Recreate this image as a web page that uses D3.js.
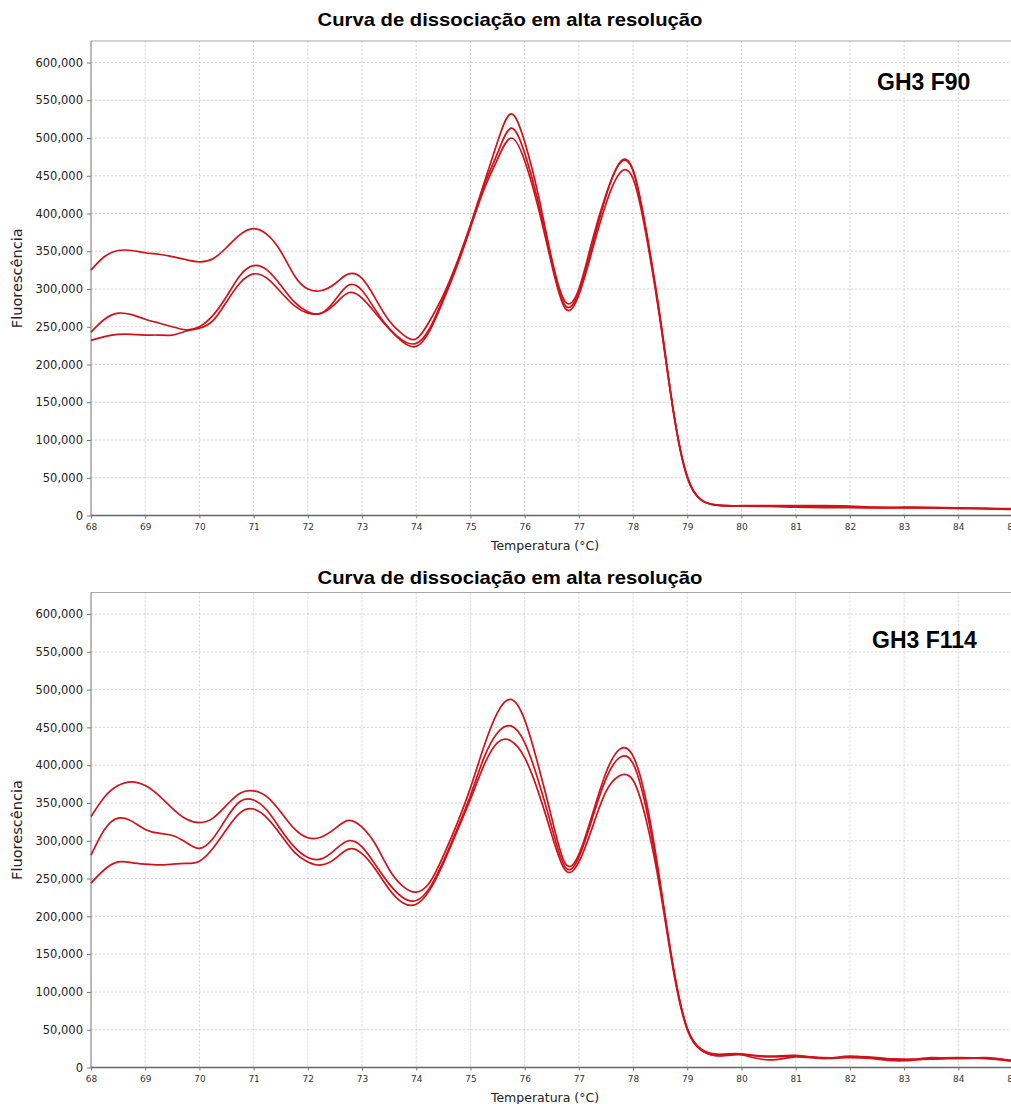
<!DOCTYPE html>
<html>
<head>
<script src="https://d3js.org/d3.v7.min.js"></script>
<style>
  body { margin: 0; background: #fff; }
</style>
</head>
<body>
<script>
// temperatures (°C), shared by all curves
const temps = [68, 68.25, 68.5, 68.75, 69, 69.25, 69.5, 69.75, 70, 70.25, 70.5, 70.75,
  71, 71.25, 71.5, 71.75, 72, 72.25, 72.5, 72.75, 73, 73.25, 73.5, 73.75,
  74, 74.25, 74.5, 74.75, 75, 75.25, 75.5, 75.75, 76, 76.25, 76.5, 76.75,
  77, 77.25, 77.5, 77.75, 78, 78.25, 78.5, 78.75, 79, 79.25, 79.5, 79.75,
  80, 80.5, 81, 81.5, 82, 82.5, 83, 83.5, 84, 84.5, 85];

// fluorescence, in thousands
const f90a = [325, 343, 351, 351, 348, 346, 343, 339, 336, 340, 355, 372,
  380, 372, 350, 318, 300, 298, 307, 320, 314, 287, 258, 240,
  234, 258, 292, 335, 385, 440, 495, 532, 495, 425, 340, 283,
  300, 365, 425, 467, 458, 375, 263, 136, 52, 21, 14.5, 13,
  13, 13, 13, 13, 12.5, 11, 11, 10.8, 10, 9.5, 9];
const f90b = [243, 260, 268, 266, 260, 255, 250, 246, 250, 265, 290, 318,
  331, 325, 305, 283, 270, 268, 285, 305, 298, 272, 248, 232,
  228, 248, 288, 332, 383, 437, 480, 513, 480, 415, 335, 278,
  296, 358, 423, 466, 456, 372, 260, 135, 51, 21, 14, 12.5,
  12.5, 12, 11, 10.5, 10.5, 10, 10, 10, 9.5, 9, 8];
const f90c = [232, 237, 240, 240, 239, 239, 239, 244, 248, 258, 283, 308,
  320, 314, 296, 278, 268, 268, 280, 295, 288, 268, 247, 230,
  224, 245, 285, 330, 381, 432, 472, 500, 470, 408, 332, 274,
  292, 352, 413, 453, 446, 368, 258, 135, 50, 21, 14, 13,
  12.5, 12.5, 12.5, 12, 11, 10.5, 10.5, 10, 9.5, 9, 8.5];

const f114a = [332, 358, 373, 378, 373, 360, 343, 329, 324, 330, 347, 363,
  366, 358, 338, 316, 304, 305, 316, 327, 318, 295, 262, 240,
  232, 245, 280, 322, 370, 425, 470, 487, 460, 400, 330, 270,
  282, 335, 390, 421, 412, 350, 245, 130, 52, 25, 18, 18,
  18, 15, 16, 12, 14, 13, 10, 13, 12, 13, 9];
const f114b = [281, 315, 330, 326, 315, 310, 307, 298, 290, 303, 330, 352,
  354, 340, 315, 292, 278, 276, 288, 300, 292, 268, 243, 225,
  221, 238, 273, 315, 360, 410, 443, 452, 430, 380, 318, 265,
  278, 330, 382, 410, 402, 340, 240, 128, 51, 24, 16, 17,
  17, 10, 14, 12, 15, 11, 9, 12, 13, 12, 8];
const f114c = [244, 262, 272, 271, 269, 268, 269, 270, 273, 290, 315, 337,
  342, 330, 308, 285, 272, 268, 276, 289, 283, 262, 236, 218,
  216, 235, 270, 312, 355, 400, 430, 432, 410, 365, 308, 261,
  272, 318, 365, 386, 380, 325, 235, 126, 50, 23, 16, 16,
  17, 14, 15, 13, 13, 12, 11, 11, 12, 12, 9];

const xTicks = d3.range(68, 86);
const yTicks = d3.range(0, 601, 50);

const title = "Curva de dissociação em alta resolução";
const xTitle = "Temperatura (°C)";
const yTitle = "Fluorescência";

const panels = [
  { label: "GH3 F90", series: [f90a, f90b, f90c], top: 41, bottom: 515.5, titleY: 26, labelX: 877, labelY: 90 },
  { label: "GH3 F114", series: [f114a, f114b, f114c], top: 592.5, bottom: 1067.5, titleY: 584, labelX: 872, labelY: 648 }
];

const width = 1011, height = 1104;
const svg = d3.select("body").append("svg")
  .attr("width", width)
  .attr("height", height)
  .style("font-family", "'DejaVu Sans', sans-serif");

const left = 91, right = 1012.5;
const fmt = d3.format(",");

panels.forEach(p => {
  const g = svg.append("g");
  const x = d3.scaleLinear().domain([68, 85]).range([left, right]);
  const y = d3.scaleLinear().domain([0, 628.5]).range([p.bottom, p.top]);

  // grid
  g.append("g").selectAll("line").data(xTicks.slice(1)).join("line")
    .attr("x1", d => x(d)).attr("x2", d => x(d))
    .attr("y1", p.top).attr("y2", p.bottom)
    .attr("stroke", "#d2d2d2").attr("stroke-dasharray", "2,2");
  g.append("g").selectAll("line").data(yTicks.slice(1)).join("line")
    .attr("x1", left).attr("x2", width)
    .attr("y1", d => y(d)).attr("y2", d => y(d))
    .attr("stroke", "#d2d2d2").attr("stroke-dasharray", "2,2");

  // frame
  g.append("line").attr("x1", left).attr("x2", width).attr("y1", p.top).attr("y2", p.top)
    .attr("stroke", "#a8a8a8");
  g.append("line").attr("x1", left).attr("x2", left).attr("y1", p.top).attr("y2", p.bottom)
    .attr("stroke", "#8a8a8a").attr("stroke-width", 1.2);
  g.append("line").attr("x1", left).attr("x2", width).attr("y1", p.bottom).attr("y2", p.bottom)
    .attr("stroke", "#666").attr("stroke-width", 1.6);

  // axes
  const ya = g.append("g").attr("transform", `translate(${left},0)`)
    .call(d3.axisLeft(y).tickValues(yTicks).tickSize(4).tickPadding(4).tickFormat(d => fmt(d * 1000)));
  ya.select(".domain").remove();
  ya.selectAll("line").attr("stroke", "#777");
  ya.selectAll("text").attr("font-size", 11.5).attr("fill", "#222").attr("font-family", "'DejaVu Sans', sans-serif");

  const xa = g.append("g").attr("transform", `translate(0,${p.bottom})`)
    .call(d3.axisBottom(x).tickValues(xTicks).tickSize(3).tickPadding(5));
  xa.select(".domain").remove();
  xa.selectAll("line").attr("stroke", "#777");
  xa.selectAll("text").attr("font-size", 9).attr("fill", "#333").attr("font-family", "'DejaVu Sans', sans-serif");

  // curves
  const line = d3.line()
    .x((d, i) => x(temps[i]))
    .y(d => y(d))
    .curve(d3.curveNatural);
  g.append("g").selectAll("path").data(p.series).join("path")
    .attr("d", line)
    .attr("fill", "none")
    .attr("stroke", "#d0121a")
    .attr("stroke-width", 1.7);

  // texts
  svg.append("text").attr("x", 510).attr("y", p.titleY)
    .attr("text-anchor", "middle")
    .attr("font-family", "'Liberation Sans', Arial, sans-serif")
    .attr("font-weight", "bold").attr("font-size", 19)
    .attr("textLength", 385).attr("lengthAdjust", "spacingAndGlyphs")
    .text(title);
  svg.append("text").attr("x", 545).attr("y", p.bottom + 34)
    .attr("text-anchor", "middle").attr("font-size", 12.5).attr("fill", "#222")
    .text(xTitle);
  svg.append("text")
    .attr("transform", `translate(22,${(p.top + p.bottom) / 2}) rotate(-90)`)
    .attr("text-anchor", "middle").attr("font-size", 13.5).attr("fill", "#222")
    .attr("textLength", 100).attr("lengthAdjust", "spacingAndGlyphs")
    .text(yTitle);
  svg.append("text").attr("x", p.labelX).attr("y", p.labelY)
    .attr("font-family", "'Liberation Sans', Arial, sans-serif")
    .attr("font-weight", "bold").attr("font-size", 23)
    .text(p.label);
});
</script>
</body>
</html>
